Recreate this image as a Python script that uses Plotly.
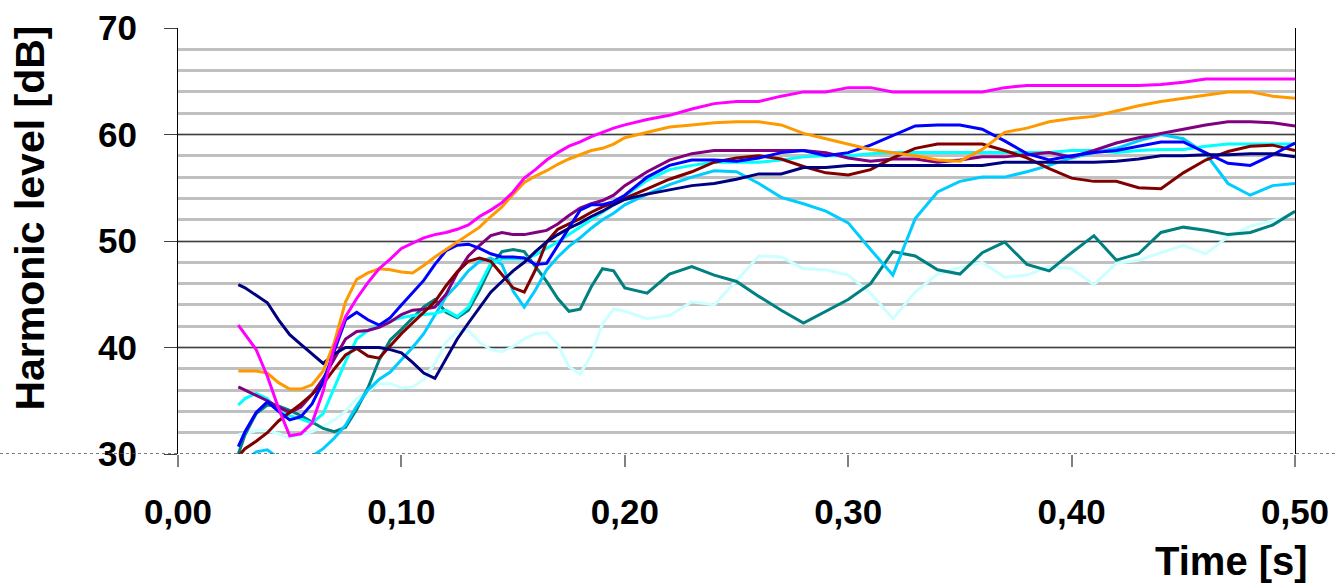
import plotly.graph_objects as go

# time axis (s)
T = [0.027, 0.03, 0.035, 0.04, 0.045, 0.05, 0.055, 0.06, 0.065, 0.07, 0.075, 0.08,
     0.085, 0.09, 0.095, 0.10, 0.105, 0.11, 0.115, 0.12, 0.125, 0.13, 0.135, 0.14,
     0.145, 0.15, 0.155, 0.16, 0.165, 0.17, 0.175, 0.18, 0.185, 0.19, 0.195, 0.20,
     0.21, 0.22, 0.23, 0.24, 0.25, 0.26, 0.27, 0.28, 0.29, 0.30,
     0.31, 0.32, 0.33, 0.34, 0.35, 0.36, 0.37, 0.38, 0.39, 0.40,
     0.41, 0.42, 0.43, 0.44, 0.45, 0.46, 0.47, 0.48, 0.49, 0.50]

light_cyan = [31.8, 31.9, 32.2, 32.2, 31.9, 31.5, 31.8, 32.1, 32.6, 33.2, 34.0, 35.2, 35.9, 36.6, 36.6, 36.2,
              36.3, 37.0, 38.5, 40.5, 41.5, 41.6, 40.5, 39.8, 39.6, 40.1, 40.8, 41.3, 41.4, 40.3, 38.2, 37.5,
              39.3, 42.2, 43.6, 43.4,
              42.7, 43.0, 44.3, 44.0, 46.3, 48.6, 48.5, 47.4, 47.3, 46.8,
              45.1, 42.7, 45.2, 46.9, 47.5, 48.0, 46.6, 46.8, 47.6, 47.4,
              45.9, 47.9, 48.2, 48.9, 49.6, 48.8, 50.4, 51.4, 51.9, 52.6]

teal = [30.0, 31.8, 33.8, 34.6, 34.5, 34.1, 33.6, 33.0, 32.4, 32.1, 32.5, 34.2, 36.2, 38.8, 40.7, 41.7,
        42.8, 43.8, 44.5, 43.3, 42.8, 43.5, 45.4, 47.6, 49.0, 49.2, 49.0, 47.6, 46.2, 44.6, 43.4, 43.6,
        45.7, 47.4, 47.2, 45.6,
        45.1, 46.9, 47.6, 46.8, 46.2, 44.8, 43.5, 42.3, 43.4, 44.5,
        46.0, 49.0, 48.6, 47.3, 46.9, 48.9, 49.9, 47.8, 47.2, 48.9,
        50.5, 48.2, 48.8, 50.8, 51.3, 51.0, 50.6, 50.8, 51.5, 52.8]

sky_blue = [29.0, 29.4, 30.2, 30.4, 29.6, 29.0, 28.8, 29.8, 30.5, 31.5, 32.7, 34.5, 36.0, 37.0, 37.7, 38.8,
            40.0, 41.3, 43.1, 44.8, 45.9, 47.2, 48.1, 48.4, 47.8, 45.3, 43.8, 45.4, 47.3, 48.5, 49.5, 50.3,
            51.2, 52.0, 52.6, 53.4,
            54.4, 55.3, 56.0, 56.6, 56.5, 55.4, 54.1, 53.5, 52.8, 51.7,
            49.2, 46.8, 52.1, 54.6, 55.6, 56.0, 56.0, 56.5, 57.1, 57.8,
            58.3, 58.7, 59.4, 60.0, 59.6, 58.2, 55.4, 54.3, 55.2, 55.4]

cyan = [34.6, 35.2, 35.7, 35.2, 34.0, 33.6, 33.3, 32.9, 33.8, 36.3, 38.7, 40.8, 41.6, 42.1, 42.5, 42.8,
        43.0, 43.1, 43.2, 43.5, 42.9, 43.8, 45.8, 47.9, 48.3, 48.3, 48.3, 48.7, 49.3, 49.9, 50.6, 51.3,
        52.0, 52.7, 53.4, 54.2,
        55.7, 56.7, 57.1, 57.4, 57.4, 57.4, 57.6, 57.9, 58.0, 58.0,
        58.2, 58.3, 58.3, 58.3, 58.3, 58.3, 58.3, 58.3, 58.3, 58.5,
        58.5, 58.3, 58.5, 58.6, 58.6, 58.9, 59.1, 59.1, 59.1, 59.1]

purple = [36.3, 36.0, 35.5, 35.0, 34.4, 33.9, 34.4, 35.6, 37.1, 39.0, 40.8, 41.5, 41.6, 41.9, 42.4, 43.1,
          43.5, 43.6, 43.8, 45.0, 47.0, 48.6, 49.6, 50.5, 50.8, 50.6, 50.6, 50.8, 51.0, 51.6, 52.4, 53.1,
          53.5, 53.8, 54.3, 55.2,
          56.5, 57.6, 58.2, 58.5, 58.5, 58.5, 58.5, 58.5, 58.3, 57.8,
          57.5, 57.7, 57.7, 57.4, 57.6, 57.9, 57.9, 58.1, 58.3, 57.9,
          58.5, 59.2, 59.7, 60.1, 60.5, 60.9, 61.2, 61.2, 61.1, 60.8]

maroon = [29.8, 30.5, 31.2, 32.0, 33.1, 33.9, 34.7, 35.6, 36.6, 38.0, 39.3, 39.9, 39.2, 39.0, 40.2, 41.3,
          42.3, 43.3, 44.3, 45.8, 47.1, 48.1, 48.4, 48.1, 46.9, 45.6, 45.2, 47.3, 49.9, 51.1, 51.6, 52.1,
          52.7, 53.2, 53.6, 54.0,
          54.9, 55.8, 56.5, 57.4, 57.8, 58.0, 57.7, 57.0, 56.4, 56.2,
          56.7, 57.8, 58.7, 59.1, 59.1, 59.1, 58.5, 57.8, 56.8, 55.9,
          55.6, 55.6, 55.0, 54.9, 56.4, 57.6, 58.4, 58.9, 59.0, 58.5]

blue = [30.7, 32.1, 33.9, 34.9, 34.0, 33.2, 33.5, 34.7, 36.8, 39.7, 42.6, 43.3, 42.6, 42.1, 42.8, 44.0,
        45.2, 46.3, 47.8, 49.1, 49.6, 49.7, 49.3, 48.8, 48.5, 48.5, 48.4, 47.8, 47.9, 49.6, 51.3, 52.9,
        53.4, 53.4, 53.7, 54.3,
        56.0, 57.1, 57.6, 57.6, 57.5, 57.8, 58.3, 58.5, 58.0, 58.3,
        59.0, 59.9, 60.8, 60.9, 60.9, 60.5, 59.4, 58.2, 57.6, 58.0,
        58.3, 58.5, 58.9, 59.3, 59.3, 58.3, 57.3, 57.1, 58.1, 59.2]

navy = [45.9, 45.6, 44.9, 44.2, 42.6, 41.2, 40.3, 39.4, 38.5, 39.4, 40.0, 40.0, 40.0, 40.0, 39.8, 39.5,
        38.6, 37.6, 37.1, 38.9, 40.8, 42.3, 43.7, 45.2, 46.2, 47.2, 48.0, 49.0, 49.9, 50.6, 51.2, 51.7,
        52.3, 52.8, 53.4, 53.9,
        54.4, 54.8, 55.2, 55.4, 55.8, 56.3, 56.3, 56.9, 56.9, 57.1,
        57.1, 57.1, 57.1, 57.1, 57.1, 57.1, 57.4, 57.4, 57.4, 57.4,
        57.4, 57.5, 57.7, 58.0, 58.0, 58.1, 58.1, 58.2, 58.2, 57.9]

orange = [37.8, 37.8, 37.8, 37.6, 36.7, 36.1, 36.1, 36.5, 37.8, 40.5, 44.3, 46.4, 47.0, 47.4, 47.3, 47.1,
          47.0, 47.7, 48.5, 49.2, 49.9, 50.6, 51.3, 52.3, 53.2, 54.4, 55.5, 56.1, 56.6, 57.2, 57.7, 58.1,
          58.5, 58.7, 59.1, 59.7,
          60.2, 60.7, 60.9, 61.1, 61.2, 61.2, 60.9, 60.1, 59.6, 59.1,
          58.6, 58.3, 58.0, 57.6, 57.5, 58.6, 60.2, 60.6, 61.2, 61.5,
          61.7, 62.2, 62.7, 63.1, 63.4, 63.7, 64.0, 64.0, 63.6, 63.4]

magenta = [42.1, 41.2, 39.8, 37.3, 34.3, 31.7, 31.9, 32.9, 35.9, 40.1, 42.9, 44.6, 46.1, 47.4, 48.3, 49.3,
           49.8, 50.3, 50.6, 50.8, 51.1, 51.5, 52.3, 52.9, 53.6, 54.6, 55.9, 56.7, 57.6, 58.3, 58.9, 59.3,
           59.8, 60.2, 60.6, 60.9,
           61.4, 61.8, 62.4, 62.9, 63.1, 63.1, 63.6, 64.0, 64.0, 64.4,
           64.4, 64.0, 64.0, 64.0, 64.0, 64.0, 64.4, 64.6, 64.6, 64.6,
           64.6, 64.6, 64.6, 64.7, 64.9, 65.2, 65.2, 65.2, 65.2, 65.2]

SERIES = [
    (light_cyan, "#CCFFFF"),
    (teal, "#008080"),
    (sky_blue, "#00CCFF"),
    (cyan, "#00FFFF"),
    (purple, "#800080"),
    (maroon, "#800000"),
    (blue, "#0000FF"),
    (navy, "#000080"),
    (orange, "#FF9900"),
    (magenta, "#FF00FF"),
]

X_TICKS = [0.0, 0.1, 0.2, 0.3, 0.4, 0.5]
X_TICK_TEXT = ["0,00", "0,10", "0,20", "0,30", "0,40", "0,50"]
Y_TICKS = [30, 40, 50, 60, 70]

FONT = "Liberation Sans, Arial, sans-serif"

fig = go.Figure()
for vals, col in SERIES:
    fig.add_trace(go.Scatter(x=T, y=vals, mode="lines",
                             line=dict(color=col, width=3), showlegend=False,
                             hoverinfo="skip"))

fig.update_layout(
    width=1336, height=584,
    margin=dict(l=178, r=41, t=28, b=130, autoexpand=False),
    paper_bgcolor="white", plot_bgcolor="white",
    showlegend=False,
    xaxis=dict(range=[0, 0.5], tickvals=X_TICKS, ticktext=X_TICK_TEXT,
               ticks="outside", ticklen=12, tickwidth=2, tickcolor="#808080",
               showgrid=False, zeroline=False, showline=False, automargin=False,
               tickfont=dict(family=FONT, size=35, color="black", weight="bold"),
               ticklabelstandoff=15),
    yaxis=dict(range=[30, 70], tickvals=Y_TICKS,
               ticks="outside", ticklen=13, tickwidth=1, tickcolor="#404040",
               showgrid=True, gridcolor="#404040", gridwidth=1,
               minor=dict(dtick=2, showgrid=True, gridcolor="#C0C0C0", gridwidth=2.5,
                          ticks=""),
               zeroline=False, showline=True, linecolor="black", linewidth=1,
               mirror=True, automargin=False,
               tickfont=dict(family=FONT, size=35, color="black", weight="bold"),
               ticklabelstandoff=20),
    shapes=[dict(type="line", xref="paper", yref="y",
                 x0=-178 / 1117, x1=(1336 - 178) / 1117, y0=30, y1=30,
                 line=dict(color="#505050", width=1.5, dash="dot"))],
    annotations=[
        dict(text="Time [s]", xref="paper", yref="paper",
             x=(1310 - 178) / 1117, y=-0.251, xanchor="right", yanchor="middle",
             showarrow=False,
             font=dict(family=FONT, size=40, color="black", weight="bold")),
        dict(text="Harmonic level [dB]", xref="paper", yref="paper",
             x=-0.1325, y=0.555, xanchor="center", yanchor="middle",
             textangle=-90, showarrow=False,
             font=dict(family=FONT, size=41, color="black", weight="bold")),
    ],
)

fig.write_html("out.html")
